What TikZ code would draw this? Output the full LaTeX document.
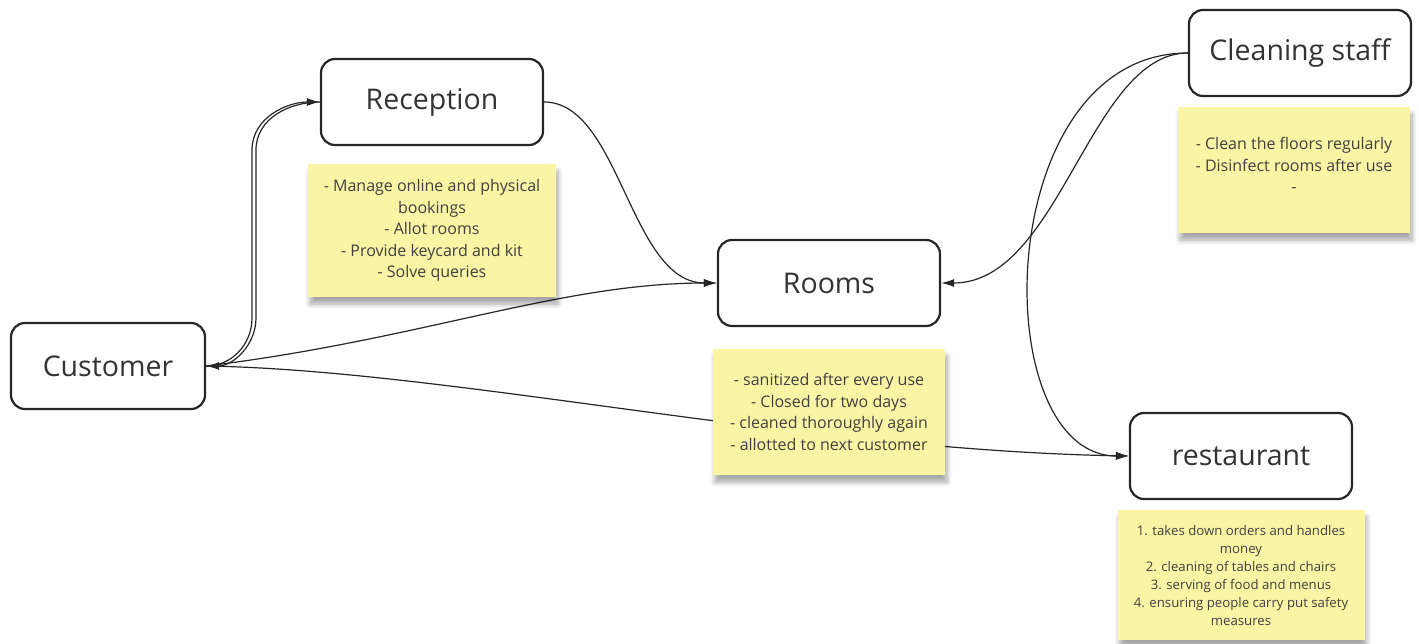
\documentclass[tikz,border=0pt]{standalone}
\usepackage{fontspec}
\setmainfont{Open Sans}
\usetikzlibrary{arrows.meta, positioning, shadows.blur}
\definecolor{stickyyellow}{RGB}{250,245,165}
\definecolor{inkgray}{RGB}{51,51,51}
\tikzstyle{entity} = [rectangle, rounded corners=14pt, draw=black!85, line width=2.2pt, minimum width=222pt, minimum height=86pt, text=inkgray, font=\fontsize{28.5}{32}\selectfont, fill=white]
\tikzstyle{sticky} = [rectangle, fill=stickyyellow, text=black!75, align=center, inner sep=0pt, outer sep=0pt, font=\fontsize{16}{21.5}\selectfont, blur shadow={shadow xshift=2pt, shadow yshift=-7pt, shadow blur radius=5pt, shadow blur steps=8, shadow opacity=35}]
\tikzstyle{arrow} = [line width=1.2pt, black!85, -{Latex[length=13pt,width=8pt]}]

\begin{document}
\begin{tikzpicture}[x=1pt, y=-1pt]
        \useasboundingbox (0,0) rectangle (1419,643);
        \node[entity] (recep) at (432,102) {Reception};
        \node[entity, minimum width=194pt] (cust) at (108,366) {Customer};
        \node[entity] (rooms) at (829,283) {Rooms};
        \node[entity] (clean) at (1300,53) {Cleaning staff};
        \node[entity] (rest) at (1241,456) {restaurant};

        \draw[arrow] (cust.east) to[out=0,in=-90] (252,318) -- (252,150) to[out=90,in=180] (recep.west);
        \draw[arrow] (recep.west) to[out=180,in=90] (256,150) -- (256,318) to[out=-90,in=0] (cust.east);
        \draw[arrow] (cust.east) .. controls (420,340) and (560,283) .. (rooms.west);
        \draw[arrow] (recep.east) .. controls (620,102) and (630,283) .. (rooms.west);
        \draw[arrow] (cust.east) .. controls (450,370) and (800,450) .. (rest.west);
        \draw[arrow] (clean.west) .. controls (1090,53) and (1060,283) .. (rooms.east);
        \draw[arrow] (clean.west) .. controls (990,53) and (985,456) .. (rest.west);

        \node[sticky, below=18pt of recep, minimum width=248pt, minimum height=133pt] (recnote) {- Manage online and physical\\ bookings\\ - Allot rooms\\ - Provide keycard and kit\\ - Solve queries};
        \node[sticky, below=22pt of rooms, minimum width=232pt, minimum height=126pt] (roomnote) {- sanitized after every use\\ - Closed for two days\\ - cleaned thoroughly again\\ - allotted to next customer};
        \node[sticky, below=10pt of clean, xshift=-6pt, minimum width=232pt, minimum height=126pt] (cleannote) {- Clean the floors regularly\\ - Disinfect rooms after use\\ -\\[-12pt]};
        \node[sticky, below=10pt of rest, minimum width=247pt, minimum height=130pt, font=\fontsize{13.2}{18}\selectfont] (restnote) {1. takes down orders and handles\\ money\\ 2. cleaning of tables and chairs\\ 3. serving of food and menus\\ 4. ensuring people carry put safety\\ measures};
    \end{tikzpicture}
\end{document}
